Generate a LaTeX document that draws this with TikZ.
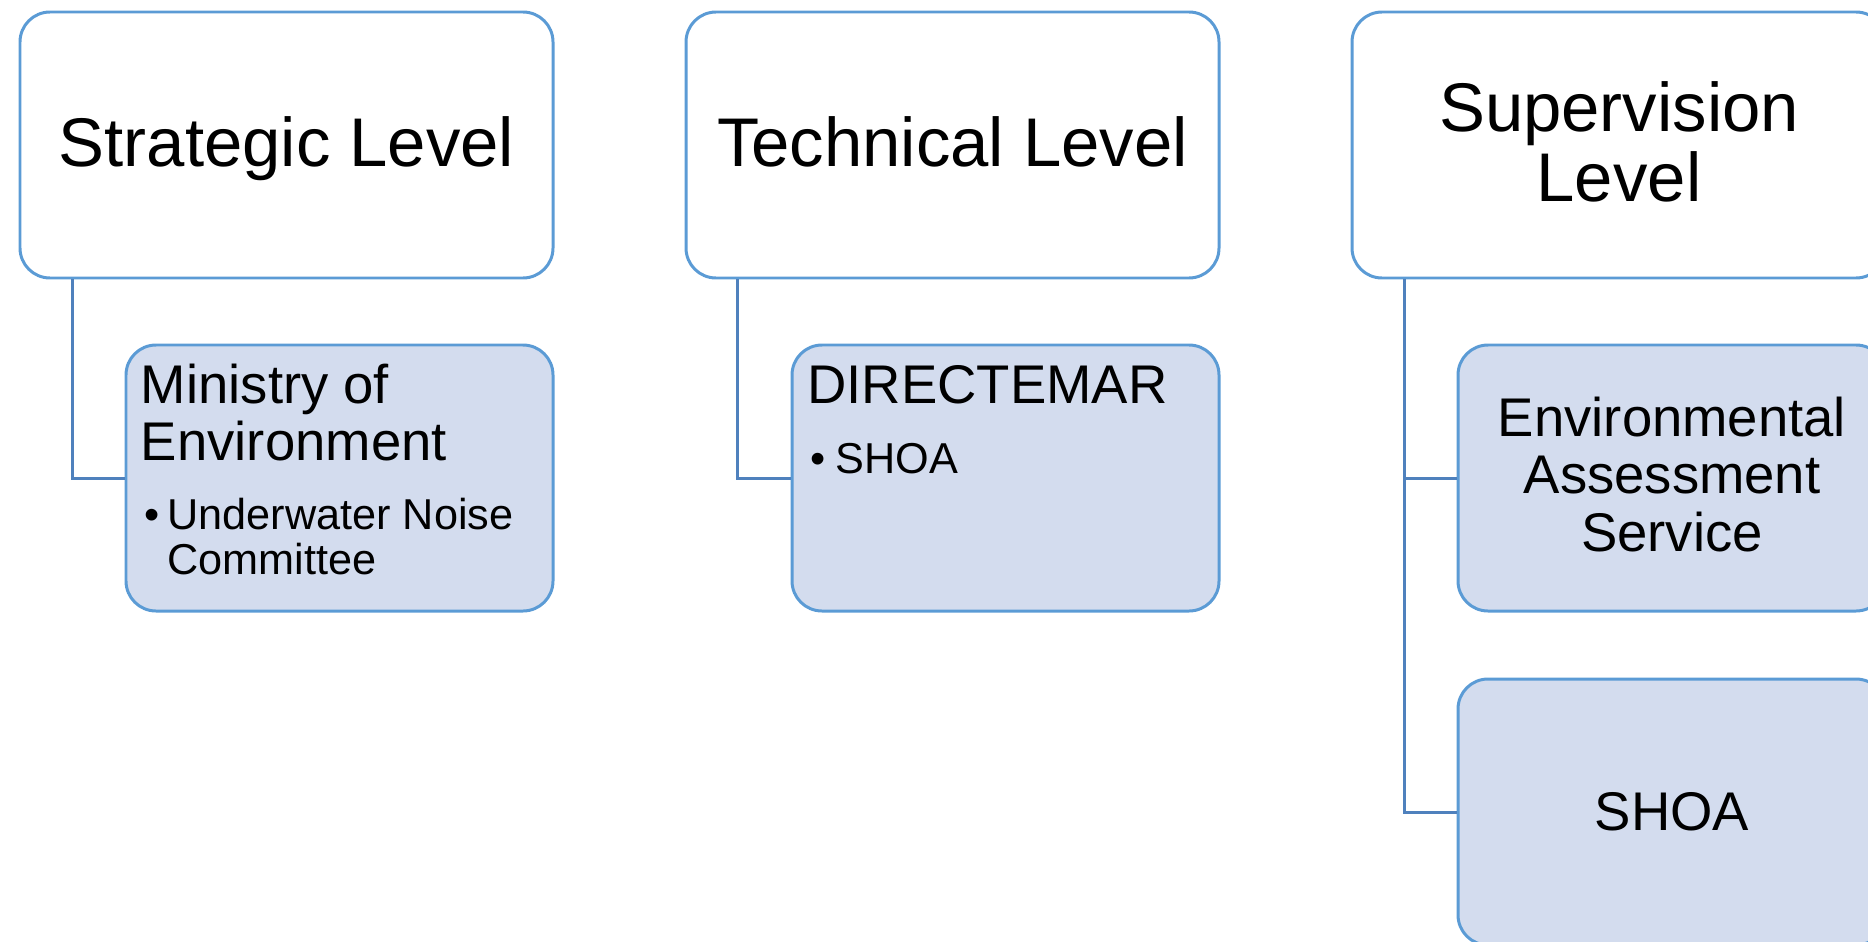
\documentclass[tikz,border=0pt]{standalone}
\usepackage{fontspec}
\setmainfont{Liberation Sans}

\definecolor{boxline}{HTML}{5B9BD5}
\definecolor{linkline}{HTML}{4F81BD}
\definecolor{boxfill}{HTML}{D3DCEE}

\begin{document}
\begin{tikzpicture}[%
        line width = 0.85pt,
        levelbox/.style = {
            draw = boxline,
            fill = white,
            rounded corners = 0.3cm,
            minimum width = 5.33cm,
            minimum height = 2.66cm,
            inner sep = 0
        },
        unitbox/.style = {
            levelbox,
            fill = boxfill,
            minimum width = 4.27cm
        },
        link/.style = {
            draw = linkline
        },
        headtext/.style = {
            font = \fontsize{19.6}{19.9}\selectfont,
            align = center,
            inner sep = 0
        },
        unittext/.style = {
            font = \fontsize{15.5}{16.3}\selectfont,
            inner sep = 0
        },
        itemtext/.style = {
            font = \fontsize{12.3}{12.6}\selectfont,
            align = left,
            inner sep = 0
        }
    ]

        % Keep the page to the size of the slide.
        \useasboundingbox (0, 0) rectangle (18.68, -9.41);
        \clip (0, 0) rectangle (18.68, -9.41);

        % Boxes of the three levels.
        \node[levelbox] at (2.865, -1.45) (strat) {};
        \node[levelbox] at (9.525, -1.45) (tech) {};
        \node[levelbox, minimum width = 5.34cm] at (16.19, -1.45) (superv) {};

        % Boxes of the units below them.
        \node[unitbox] at (3.395, -4.78) (ministry) {};
        \node[unitbox] at (10.055, -4.78) (directemar) {};
        \node[unitbox, minimum width = 4.28cm] at (16.72, -4.78) (eas) {};
        \node[unitbox, minimum width = 4.28cm] at (16.72, -8.12) (shoa) {};

        % Titles of the levels (base is the last line).
        \node[headtext, anchor = base] at (2.865, -1.66) (strattxt) {Strategic Level};
        \node[headtext, anchor = base] at (9.525, -1.66) (techtxt) {Technical Level};
        \node[headtext, anchor = base] at (16.19, -2.01) (supervtxt) {Supervision\\Level};

        % Texts of the units.
        \node[unittext, align = left, anchor = base west] at (1.395, -4.607) (mintxt) {Ministry of\\Environment};
        \node[itemtext, anchor = base west] at (1.43, -5.299) (minbul) {•};
        \node[itemtext, anchor = base west] at (1.66, -5.741) (minitem) {Underwater Noise\\Committee};
        \node[unittext, anchor = base west] at (8.06, -4.033) (dirtxt) {DIRECTEMAR};
        \node[itemtext, anchor = base west] at (8.09, -4.733) (dirbul) {•};
        \node[itemtext, anchor = base west] at (8.34, -4.733) (diritem) {SHOA};
        \node[unittext, align = center, anchor = base] at (16.72, -5.51) (eastxt) {Environmental\\Assessment\\Service};
        \node[unittext, anchor = base] at (16.72, -8.30) (shoatxt) {SHOA};

        % Connectors from each level down to its units.
        \draw[link] ([xshift = 0.54cm]strat.south west) |- (ministry.west);
        \draw[link] ([xshift = 0.53cm]tech.south west) |- (directemar.west);
        \draw[link] ([xshift = 0.54cm]superv.south west) |- (shoa.west);
        \draw[link] (eas.west) -| ([xshift = 0.54cm]superv.south west);
\end{tikzpicture}
\end{document}
